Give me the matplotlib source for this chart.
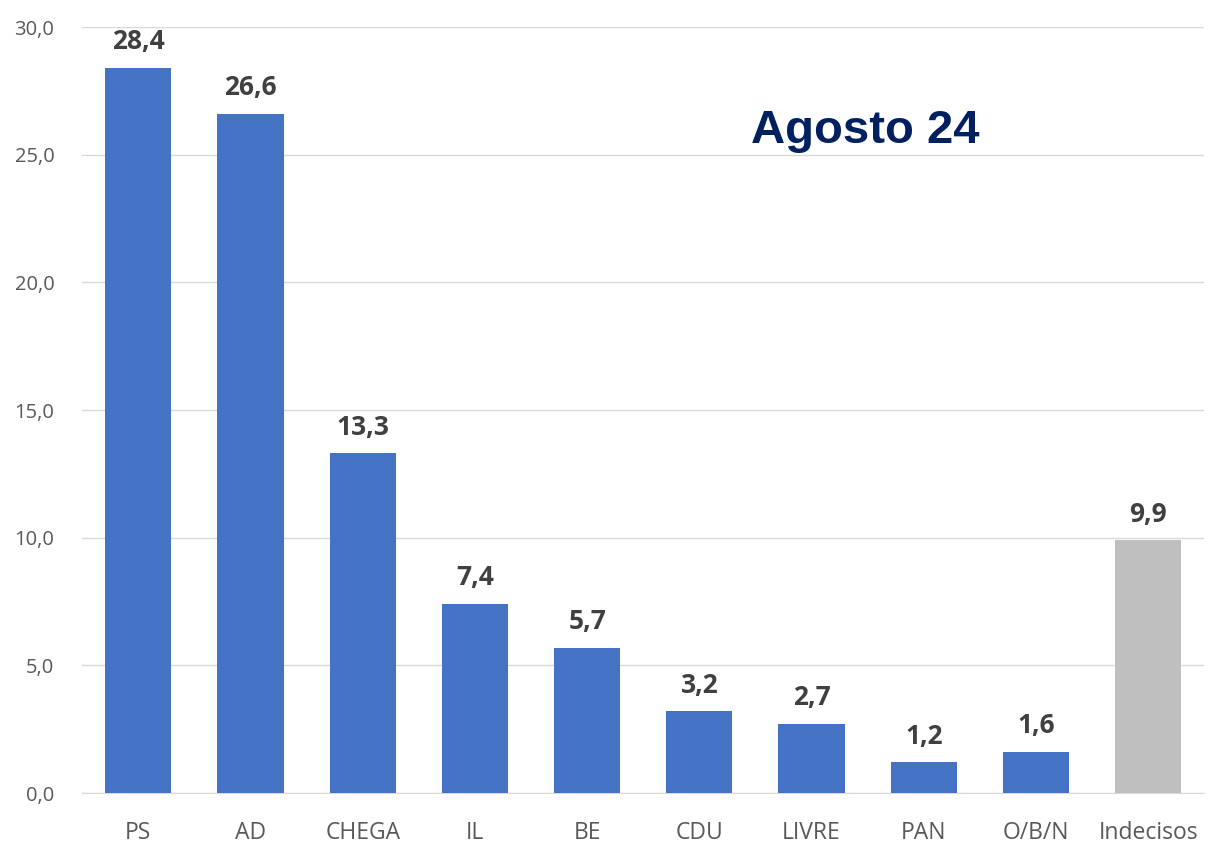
import matplotlib.pyplot as plt

parties = ["PS", "AD", "CHEGA", "IL", "BE", "CDU", "LIVRE", "PAN", "O/B/N", "Indecisos"]
values = [28.4, 26.6, 13.3, 7.4, 5.7, 3.2, 2.7, 1.2, 1.6, 9.9]
colors = ["#4472C4"] * 9 + ["#BFBFBF"]
yticks = [0, 5, 10, 15, 20, 25, 30]


def fmt(v):
    return f"{v:.1f}".replace(".", ",")


def main():
    plt.rcParams["font.family"] = ["Open Sans", "DejaVu Sans"]
    fig = plt.figure(figsize=(12.08, 8.46), dpi=100)
    ax = fig.add_axes([0.068, 0.0626, 0.929, 0.9054])

    x = range(len(parties))
    ax.bar(x, values, width=0.59, color=colors, zorder=3)
    for i, v in zip(x, values):
        ax.text(i, v + 0.5, fmt(v), ha="center", va="bottom",
                fontsize=19, fontweight="bold", color="#404040")

    ax.set_xlim(-0.5, len(parties) - 0.5)
    ax.set_ylim(0, 30)
    ax.set_yticks(yticks)
    ax.set_yticklabels([fmt(t) for t in yticks], fontsize=14.5, color="#595959")
    ax.set_xticks(list(x))
    ax.set_xticklabels(parties, fontsize=16.5, color="#595959")
    ax.tick_params(axis="x", length=0, pad=20)
    ax.tick_params(axis="y", length=0, pad=20)
    ax.grid(axis="y", color="#D9D9D9", linewidth=1, zorder=0)
    for s in ["top", "right", "left"]:
        ax.spines[s].set_visible(False)
    ax.spines["bottom"].set_color("#D9D9D9")

    fig.text(0.716, 0.845, "Agosto 24", ha="center", va="center",
             fontsize=34, fontweight="bold", color="#002060",
             family="Liberation Sans")

    fig.savefig("out.png", dpi=100)


if __name__ == "__main__":
    main()
